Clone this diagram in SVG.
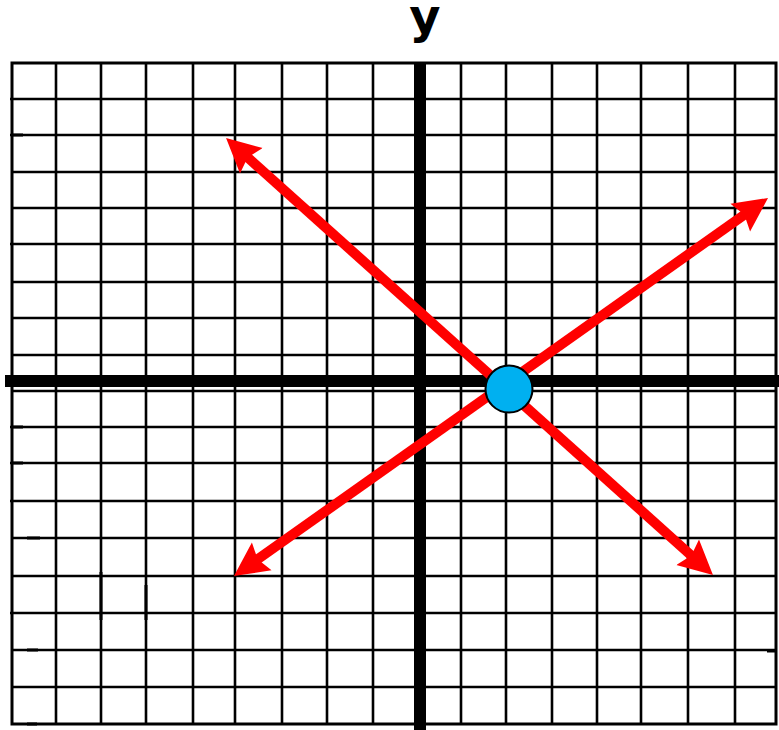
<svg xmlns="http://www.w3.org/2000/svg" width="779" height="730" viewBox="0 0 779 730">
  <style>
    .grid line { stroke: #000; stroke-width: 2.6; }
    .border { fill: none; stroke: #000; stroke-width: 3; }
    .tick { stroke: #000; stroke-width: 3; }
    .axis { stroke: #000; stroke-width: 12; }
    .ray { stroke: #ff0000; stroke-width: 10; fill: none; marker-start: url(#arrow); marker-end: url(#arrow); }
    .label { font-family: "DejaVu Sans", "Liberation Sans", sans-serif; font-weight: bold; font-size: 48px; fill: #000; }
  </style>
  <defs>
    <marker id="arrow" markerUnits="userSpaceOnUse" markerWidth="40" markerHeight="40" viewBox="0 -20 40 40" refX="8" refY="0" orient="auto-start-reverse">
      <path d="M0,-17 L34,0 L0,17 L5,0 Z" fill="#ff0000"/>
    </marker>
  </defs>
  <rect x="0" y="0" width="779" height="730" fill="#fff"/>

  <g id="grid" class="grid">
    <line x1="56" y1="63" x2="56" y2="724"/>
    <line x1="101" y1="63" x2="101" y2="724"/>
    <line x1="146" y1="63" x2="146" y2="724"/>
    <line x1="193" y1="63" x2="193" y2="724"/>
    <line x1="235" y1="63" x2="235" y2="724"/>
    <line x1="282" y1="63" x2="282" y2="724"/>
    <line x1="327" y1="63" x2="327" y2="724"/>
    <line x1="373" y1="63" x2="373" y2="724"/>
    <line x1="461" y1="63" x2="461" y2="724"/>
    <line x1="506" y1="63" x2="506" y2="724"/>
    <line x1="552" y1="63" x2="552" y2="724"/>
    <line x1="597" y1="63" x2="597" y2="724"/>
    <line x1="641" y1="63" x2="641" y2="724"/>
    <line x1="688" y1="63" x2="688" y2="724"/>
    <line x1="735" y1="63" x2="735" y2="724"/>

    <line x1="10" y1="99" x2="776" y2="99"/>
    <line x1="10" y1="135" x2="776" y2="135"/>
    <line x1="12" y1="172" x2="776" y2="172"/>
    <line x1="12" y1="208" x2="776" y2="208"/>
    <line x1="10" y1="244" x2="776" y2="244"/>
    <line x1="12" y1="282" x2="776" y2="282"/>
    <line x1="12" y1="318" x2="776" y2="318"/>
    <line x1="12" y1="355" x2="776" y2="355"/>
    <line x1="12" y1="391" x2="776" y2="391"/>
    <line x1="10" y1="427" x2="776" y2="427"/>
    <line x1="10" y1="463" x2="776" y2="463"/>
    <line x1="10" y1="501" x2="776" y2="501"/>
    <line x1="12" y1="538" x2="776" y2="538"/>
    <line x1="12" y1="576" x2="776" y2="576"/>
    <line x1="10" y1="613" x2="776" y2="613"/>
    <line x1="12" y1="650" x2="776" y2="650"/>
    <line x1="12" y1="687" x2="776" y2="687"/>
  </g>

  <rect id="frame" class="border" x="12" y="63" width="764" height="661"/>

  <g id="ticks" class="tick">
    <line x1="12" y1="135" x2="23" y2="135"/>
    <line x1="12" y1="427" x2="23" y2="427"/>
    <line x1="12" y1="463" x2="23" y2="463"/>
    <line x1="27" y1="538" x2="40" y2="538"/>
    <line x1="27" y1="650" x2="38" y2="650"/>
    <line x1="27" y1="724" x2="37" y2="724"/>
    <line x1="767" y1="651" x2="777" y2="651"/>
    <line x1="101" y1="572" x2="101" y2="620"/>
    <line x1="146" y1="585" x2="146" y2="620"/>
  </g>

  <g id="axes">
    <line id="x-axis" class="axis" x1="5" y1="381" x2="779" y2="381"/>
    <line id="y-axis" class="axis" x1="420" y1="62" x2="420" y2="730"/>
  </g>

  <g id="y-label">
    <text class="label" x="425" y="33" text-anchor="middle">y</text>
  </g>

  <g id="connectors">
    <line class="ray" x1="245.4" y1="155.4" x2="693.6" y2="557.6"/>
    <line class="ray" x1="255.2" y1="561" x2="746.8" y2="213"/>
  </g>

  <g id="point">
    <circle cx="509" cy="389" r="23.5" fill="#00b0f0" stroke="#000" stroke-width="2"/>
  </g>
</svg>
